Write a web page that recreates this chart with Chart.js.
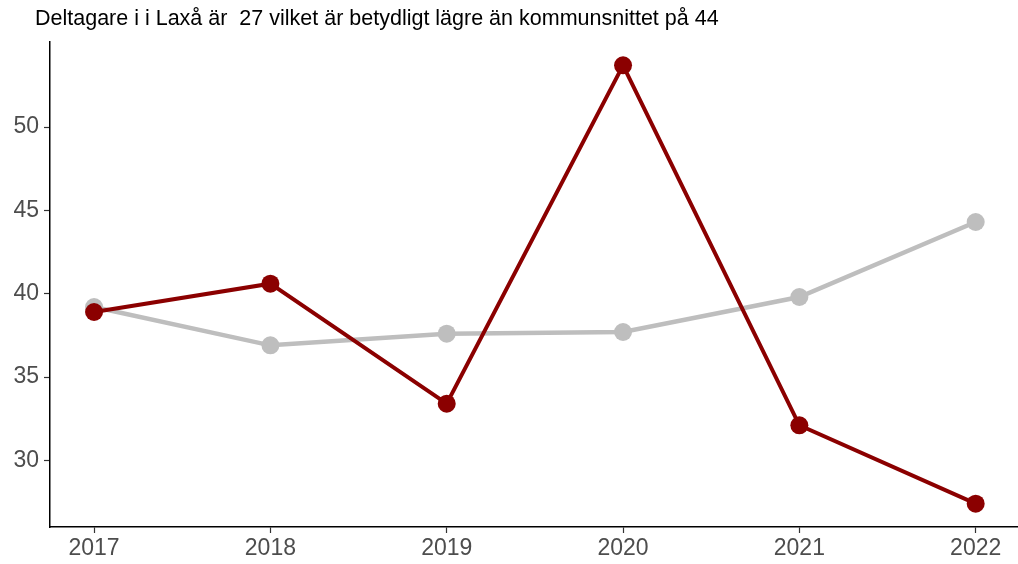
<!DOCTYPE html>
<html>
<head>
<meta charset="utf-8">
<script src="https://cdn.jsdelivr.net/npm/chart.js@4/dist/chart.umd.min.js"></script>
<style>
  html, body { margin: 0; padding: 0; background: #fff; }
  #wrap { width: 1018px; height: 564px; }
</style>
</head>
<body>
<div id="wrap"><canvas id="line-chart" width="1018" height="564"></canvas></div>
<script>
const years = [2017, 2018, 2019, 2020, 2021, 2022];
const laxa = [38.9, 40.6, 33.4, 53.7, 32.1, 27.4];
const snitt = [39.2, 36.9, 37.6, 37.7, 39.8, 44.3];
const yTicks = [30, 35, 40, 45, 50];
const titleText = 'Deltagare i i Laxå är  27 vilket är betydligt lägre än kommunsnittet på 44';

const toPoints = (vals) => vals.map((v, i) => ({ x: years[i], y: v }));
const fontFamily = '"Liberation Sans", Arial, sans-serif';

// draw the title at top-left, like ggplot's plot title
const titlePlugin = {
    id: 'plotTitle',
    afterDraw(chart) {
        const c = chart.ctx;
        c.save();
        c.font = '21.5px ' + fontFamily;
        c.fillStyle = '#000';
        c.textBaseline = 'alphabetic';
        c.fillText(titleText, 35, 25);
        c.restore();
    }
};

var ctx = document.getElementById('line-chart').getContext('2d');

new Chart(ctx, {
    type: 'line',
    data: {
        datasets: [{
            label: 'Laxå',
            data: toPoints(laxa),
            borderColor: '#8B0000',
            backgroundColor: '#8B0000',
            borderWidth: 4,
            pointRadius: 9,
            pointHoverRadius: 9,
            pointBorderWidth: 0,
            order: 1
        }, {
            label: 'Kommunsnitt',
            data: toPoints(snitt),
            borderColor: '#BEBEBE',
            backgroundColor: '#BEBEBE',
            borderWidth: 4.5,
            pointRadius: 9,
            pointHoverRadius: 9,
            pointBorderWidth: 0,
            order: 2
        }]
    },
    options: {
        responsive: false,
        animation: false,
        layout: { autoPadding: false, padding: { top: 42, right: 0, left: 0, bottom: 0 } },
        plugins: {
            legend: { display: false },
            tooltip: { enabled: false }
        },
        scales: {
            x: {
                type: 'linear',
                min: 2016.75,
                max: 2022.24,
                afterFit: (s) => { s.height = 37; s.paddingLeft = 0; s.paddingRight = 0; },
                afterBuildTicks: (s) => { s.ticks = years.map(v => ({ value: v })); },
                border: { color: '#000', width: 1.5 },
                grid: { drawOnChartArea: false, color: '#333', tickLength: 6, tickWidth: 1.2 },
                ticks: {
                    color: '#4D4D4D',
                    font: { family: fontFamily, size: 23 },
                    padding: 2,
                    maxRotation: 0,
                    callback: (v) => String(v)
                }
            },
            y: {
                min: 26,
                max: 55.1,
                afterFit: (s) => { s.width = 50; s.paddingTop = 0; s.paddingBottom = 0; },
                afterBuildTicks: (s) => { s.ticks = yTicks.map(v => ({ value: v })); },
                border: { color: '#000', width: 1.5 },
                grid: { drawOnChartArea: false, color: '#333', tickLength: 6, tickWidth: 1.2 },
                ticks: {
                    color: '#4D4D4D',
                    font: { family: fontFamily, size: 23 },
                    padding: 5
                }
            }
        }
    },
    plugins: [titlePlugin]
});
</script>
</body>
</html>
